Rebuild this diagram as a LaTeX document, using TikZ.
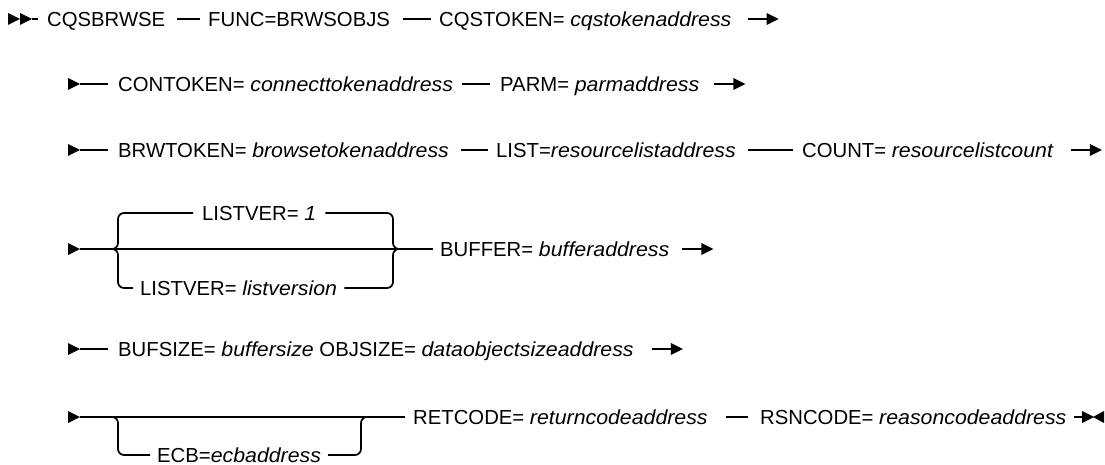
\documentclass[tikz,border=0pt]{standalone}
\usepackage{fontspec}
\setmainfont{Liberation Sans}[ItalicFeatures={FakeStretch=1.05}]
\usetikzlibrary{calc}
\tikzset{
  tipr/.pic={\fill (0,-6) -- (12,0) -- (0,6) -- cycle;},
  tipl/.pic={\fill (0,-6) -- (-11,0) -- (0,6) -- cycle;},
}
\begin{document}
\begin{tikzpicture}[x=1pt,y=-1pt,
  lbl/.style={anchor=west,inner sep=0pt,text height=14.5pt,text depth=0pt,font=\fontsize{20.3}{24}\selectfont},
  ln/.style={line width=1.7pt},
  br/.style={line width=1.7pt,rounded corners=6pt}]
\useasboundingbox (0,0) rectangle (1105,465);

% ---------- row 1 ----------
\pic at (8,19) {tipr};
\pic at (20,19) {tipr};
\coordinate (s1) at (32,19);
\node[lbl] (n11) at (47,19) {CQSBRWSE};
\node[lbl] (n12) at (208,19) {FUNC=BRWSOBJS};
\node[lbl] (n13) at (439,19) {CQSTOKEN= \textit{cqstokenaddress}};
\draw[ln] (s1) -- ++(6,0);
\draw[ln] ($(n11.east)+(12,0)$) -- ($(n12.west)+(-8,0)$);
\draw[ln] ($(n12.east)+(13,0)$) -- ($(n13.west)+(-8,0)$);
\coordinate (e1) at ($(n13.east)+(16,0)$);
\draw[ln] (e1) -- ++(20,0);
\pic at ($(e1)+(19,0)$) {tipr};

% ---------- row 2 ----------
\pic at (68,84) {tipr};
\node[lbl] (n21) at (118,84) {CONTOKEN= \textit{connecttokenaddress}};
\node[lbl] (n22) at (500,84) {PARM= \textit{parmaddress}};
\draw[ln] (80,84) -- ($(n21.west)+(-10,0)$);
\draw[ln] ($(n21.east)+(9,0)$) -- ($(n22.west)+(-10,0)$);
\coordinate (e2) at ($(n22.east)+(15,0)$);
\draw[ln] (e2) -- ++(20,0);
\pic at ($(e2)+(19,0)$) {tipr};

% ---------- row 3 ----------
\pic at (68,150) {tipr};
\node[lbl] (n31) at (118,150) {BRWTOKEN= \textit{browsetokenaddress}};
\node[lbl] (n32) at (496,150) {LIST=\textit{resourcelistaddress}};
\node[lbl] (n33) at (802,150) {COUNT= \textit{resourcelistcount}};
\draw[ln] (80,150) -- ($(n31.west)+(-10,0)$);
\draw[ln] ($(n31.east)+(12,0)$) -- ($(n32.west)+(-8,0)$);
\draw[ln] ($(n32.east)+(12,0)$) -- ($(n33.west)+(-9,0)$);
\coordinate (e3) at ($(n33.east)+(17,0)$);
\draw[ln] (e3) -- ++(20,0);
\pic at ($(e3)+(19,0)$) {tipr};

% ---------- row 4 ----------
\pic at (68,249) {tipr};
\node[lbl] (n4a) at (202,213) {LISTVER= \textit{1}};
\node[lbl] (n4b) at (140,288) {LISTVER= \textit{listversion}};
\node[lbl] (n42) at (440,249) {BUFFER= \textit{bufferaddress}};
\draw[ln] (80,249) -- ($(n42.west)+(-7,0)$);
\draw[br] ($(n4a.west)+(-9,0)$) -| (118,249) -- (108,249);
\draw[br] ($(n4b.west)+(-7,0)$) -| (118,249) -- (108,249);
\draw[br] ($(n4a.east)+(9,0)$) -| (393,249) -- (403,249);
\draw[br] ($(n4b.east)+(7,0)$) -| (393,249) -- (403,249);
\coordinate (e4) at ($(n42.east)+(13,0)$);
\draw[ln] (e4) -- ++(20,0);
\pic at ($(e4)+(19,0)$) {tipr};

% ---------- row 5 ----------
\pic at (68,349) {tipr};
\node[lbl] (n51) at (118,349) {BUFSIZE= \textit{buffersize} OBJSIZE= \textit{dataobjectsizeaddress}};
\draw[ln] (80,349) -- ($(n51.west)+(-10,0)$);
\coordinate (e5) at ($(n51.east)+(18,0)$);
\draw[ln] (e5) -- ++(20,0);
\pic at ($(e5)+(19,0)$) {tipr};

% ---------- row 6 ----------
\pic at (68,417) {tipr};
\node[lbl] (n6a) at (157,455) {ECB=\textit{ecbaddress}};
\node[lbl] (n62) at (413,417) {RETCODE= \textit{returncodeaddress}};
\node[lbl] (n63) at (760,417) {RSNCODE= \textit{reasoncodeaddress}};
\draw[ln] (80,417) -- ($(n62.west)+(-8,0)$);
\draw[br] (108,417) -| (118,455) -- ($(n6a.west)+(-7,0)$);
\draw[br] ($(n6a.east)+(7,0)$) -| (361,417) -- (371,417);
\draw[ln] ($(n62.east)+(18,0)$) -- ($(n63.west)+(-12,0)$);
\coordinate (e6) at (1074,417);
\draw[ln] (e6) -- ++(10,0);
\pic at (1082,417) {tipr};
\pic at (1104,417) {tipl};
\end{tikzpicture}
\end{document}
